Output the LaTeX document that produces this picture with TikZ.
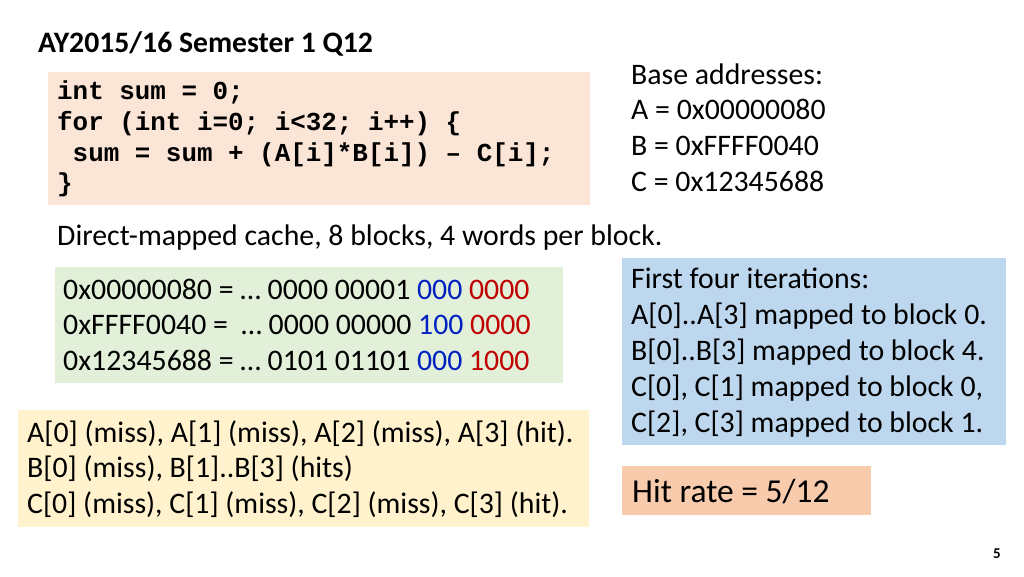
\documentclass[tikz,border=0pt]{standalone}
\usepackage{fontspec}
\setmainfont{Carlito}
\setmonofont{Liberation Mono}
\definecolor{peach}{HTML}{FBE5D6}
\definecolor{lgreen}{HTML}{E2F0D9}
\definecolor{lblue}{HTML}{BDD7EE}
\definecolor{lyellow}{HTML}{FFF2CC}
\definecolor{salmon}{HTML}{F8CBAD}
\definecolor{bl}{HTML}{0020C0}
\definecolor{rd}{HTML}{C00000}
\begin{document}
\begin{tikzpicture}[x=1pt,y=-1pt,
  txt/.style={anchor=base west,inner sep=0pt,font=\fontsize{29.8}{34}\selectfont},
  code/.style={anchor=base west,inner sep=0pt,font=\fontsize{25.9}{30}\ttfamily\bfseries}]
\useasboundingbox (0,0) rectangle (1024,576);
\fill[white] (0,0) rectangle (1024,576);
\fill[peach] (48,72) rectangle (590,205);
\fill[lgreen] (55,267) rectangle (563,383);
\fill[lblue] (622,258) rectangle (1006,445);
\fill[lyellow] (18,410) rectangle (589,527);
\fill[salmon] (622,466) rectangle (871,515);
\node[txt,font=\fontsize{29.7}{34}\selectfont\bfseries] (title) at (38,52) {AY2015/16 Semester 1 Q12};
\node[code] (c1) at (57,99) {int sum = 0;};
\node[code] (c2) at (57,130) {for (int i=0; i<32; i++) \{};
\node[code] (c3) at (57,161) {\ sum = sum + (A[i]*B[i]) – C[i];};
\node[code] (c4) at (57,191) {\}};
\node[txt] (b1) at (631,84) {Base addresses:};
\node[txt] (b2) at (631,119) {A = 0x00000080};
\node[txt] (b3) at (631,155) {B = 0xFFFF0040};
\node[txt] (b4) at (631,191) {C = 0x12345688};
\node[txt] (dm) at (57,245) {Direct-mapped cache, 8 blocks, 4 words per block.};
\node[txt] (g1) at (63,299) {0x00000080 = … 0000 00001 \textcolor{bl}{000} \textcolor{rd}{0000}};
\node[txt] (g2) at (63,334) {0xFFFF0040 = \ … 0000 00000 \textcolor{bl}{100} \textcolor{rd}{0000}};
\node[txt] (g3) at (63,370) {0x12345688 = … 0101 01101 \textcolor{bl}{000} \textcolor{rd}{1000}};
\node[txt] (f1) at (631,288) {First four iterations:};
\node[txt] (f2) at (631,324) {A[0]..A[3] mapped to block 0.};
\node[txt] (f3) at (631,360) {B[0]..B[3] mapped to block 4.};
\node[txt] (f4) at (631,396) {C[0], C[1] mapped to block 0,};
\node[txt] (f5) at (631,432) {C[2], C[3] mapped to block 1.};
\node[txt] (y1) at (27,442) {A[0] (miss), A[1] (miss), A[2] (miss), A[3] (hit).};
\node[txt] (y2) at (27,477) {B[0] (miss), B[1]..B[3] (hits)};
\node[txt] (y3) at (27,513) {C[0] (miss), C[1] (miss), C[2] (miss), C[3] (hit).};
\node[txt,font=\fontsize{33.5}{38}\selectfont] (hr) at (632,502) {Hit rate = 5/12};
\node[txt,font=\fontsize{15}{18}\selectfont\bfseries] (pg) at (993,558) {5};
\end{tikzpicture}
\end{document}
